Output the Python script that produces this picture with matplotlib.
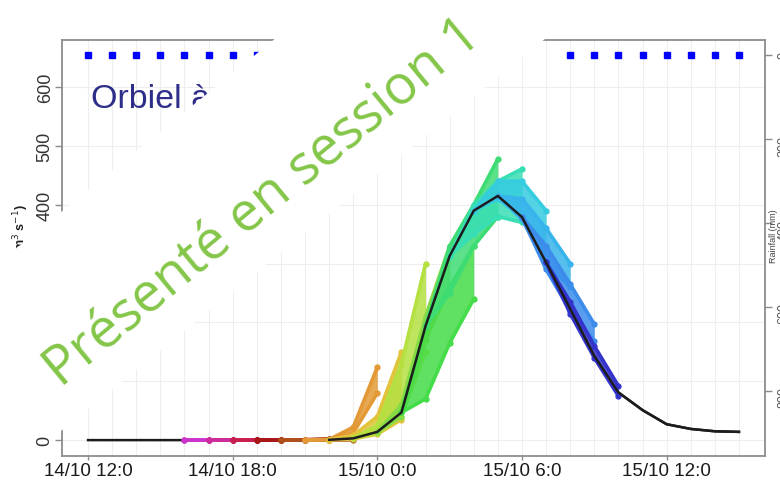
import matplotlib
matplotlib.use('Agg')
import matplotlib.pyplot as plt
from matplotlib.patches import Polygon
import numpy as np

W, H = 780, 481

# ---------------- data ----------------
hours = list(range(28))
observed = [0, 0, 0, 0, 0, 0, 0, 0, 0, 0, 0.5, 3, 14, 47, 194, 313, 390, 415,
            379, 302, 223, 143, 81, 51, 27, 19, 15, 14]
tick_hours = [0, 6, 12, 18, 24]
tick_labels = ['14/10 12:0', '14/10 18:0', '15/10 0:0', '15/10 6:0', '15/10 12:0']
q_ticks = [0, 100, 200, 300, 400, 500, 600]
rain_ticks = [0, 200, 400, 600, 800]
rain_hours = [0, 1, 2, 3, 4, 5, 6, 7, 20, 21, 22, 23, 24, 25, 26, 27]
rain_values = [0, 0, 0, 0, 0, 0, 0, 0, 0, 0, 0, 0, 0, 0, 0, 0]

issue_hours = [4, 5, 6, 7, 8, 9, 10, 11, 12, 13, 14, 15, 16, 17, 18, 19]
lead_hours = [0, 1, 2, 3]
fc_low = [
    [0, 0, 0, 0],
    [0, 0, 0, 0],
    [0, 0, 0, 0],
    [0, 0, 0, 0],
    [0, 0, 0, 0.5],
    [0, 0.5, 12, 80],
    [0.5, 2, 10, 35],
    [3, 12, 40, 150],
    [14, 40, 170, 260],
    [47, 70, 165, 240],
    [194, 250, 330, 380],
    [313, 350, 380, 370],
    [390, 410, 380, 310],
    [415, 375, 300, 260],
    [379, 290, 220, 168],
    [302, 215, 140, 75],
]
fc_high = [
    [0, 0, 0, 0],
    [0, 0, 0, 0],
    [0, 0, 0, 0.5],
    [0, 0, 0.5, 2],
    [0, 0.5, 2, 8],
    [0, 1, 22, 124],
    [0.5, 8, 40, 150],
    [3, 25, 130, 300],
    [14, 60, 210, 330],
    [47, 190, 260, 330],
    [194, 330, 400, 478],
    [313, 400, 440, 461],
    [390, 440, 440, 390],
    [415, 410, 360, 300],
    [379, 330, 265, 197],
    [302, 235, 160, 92],
]
fc_colors = ['#CC33CC', '#CC2C99', '#C8204E', '#A81818', '#B0501C', '#E39A36',
             '#E2C43C', '#B4E040', '#86DA44', '#44DC48', '#3EDC74', '#38DEB4',
             '#36CCE0', '#38B4EC', '#3C8CEC', '#3434CC']


def fx(x):
    return x / W


def fy(y):
    return 1 - y / H


plt.rcParams['font.family'] = ['Liberation Sans', 'DejaVu Sans']

fig = plt.figure(figsize=(W / 100, H / 100), dpi=100)
fig.patch.set_facecolor('white')
ax = fig.add_axes([fx(62), fy(457), fx(765) - fx(62), fy(41) - fy(457)])
ax.set_xlim(-1.08, 28.08)
ax.set_ylim(-27, 680)
ax.set_axisbelow(True)

# grid
ax.set_xticks(hours, minor=True)
ax.set_xticks(tick_hours)
ax.set_xticklabels(tick_labels)
ax.set_yticks(q_ticks)
ax.grid(which='minor', axis='x', color='#EEEEEE', lw=0.8)
ax.grid(which='major', axis='both', color='#EEEEEE', lw=0.8)
ax.tick_params(which='minor', length=0)

# observed (lower layer)
ax.plot(hours, observed, color='#1C1C1C', lw=1.8, zorder=2)

# ensemble fans
for ih, lo, hi, c in zip(issue_hours, fc_low, fc_high, fc_colors):
    xs = [ih + l for l in lead_hours]
    ax.fill_between(xs, lo, hi, color=c, alpha=0.85, lw=0, zorder=3)
    ax.plot(xs, lo, color=c, lw=2.6, marker='o', ms=3.5, zorder=3,
            solid_capstyle='round')
    ax.plot(xs, hi, color=c, lw=2.6, marker='o', ms=3.5, zorder=3,
            solid_capstyle='round')

# observed (upper layer, rising limb onward)
ax.plot(hours[10:], observed[10:], color='#1C1C1C', lw=1.8, zorder=4)

for s in ax.spines.values():
    s.set_color('#8C8C8C')
    s.set_linewidth(1.3)

ax.tick_params(axis='x', which='major', length=3, width=1, color='#8C8C8C',
               pad=1, labelsize=13.5, labelcolor='#1A1A1A')
ax.tick_params(axis='y', which='major', length=5, width=1, color='#8C8C8C',
               pad=1, labelsize=13, labelrotation=90, labelcolor='#333333')
for lab in ax.get_yticklabels():
    lab.set_va('center')

# title / labels
ax.text(fx(91), fy(108), 'Orbiel à Bouilhonnac', transform=fig.transFigure,
        fontsize=24.5, color='#2E2E8A', ha='left', va='baseline', zorder=5)
ax.text(fx(21), fy(204), 'Discharge (m$^3$ s$^{-1}$)', transform=fig.transFigure,
        rotation=90, ha='center', va='top', fontsize=9, color='#222222',
        fontweight='bold')

# rainfall axis
ax2 = ax.twinx()
ax2.set_ylim(955, -36)
ax2.set_yticks(rain_ticks)
ax2.plot(rain_hours, rain_values, linestyle='none', marker='s', ms=4.5,
         color='#0000FF')
for s in ax2.spines.values():
    s.set_visible(False)
ax2.tick_params(axis='y', length=5, width=1, color='#8C8C8C', pad=4,
                labelsize=9, labelrotation=90, labelcolor='#555555')
fig.text(fx(773), fy(236), 'Rainfall (mm)', rotation=90, fontsize=6.5,
         ha='center', va='center', color='#444444')

# white overlay band behind the watermark
th = np.deg2rad(39)
nvec = np.array([-np.sin(th), -np.cos(th)])
uvec = np.array([np.cos(th), -np.sin(th)])
verts = []
for cn, cu in [(-374, -232), (-204, -232), (-204, 900), (-374, 900)]:
    p = cn * nvec + cu * uvec
    verts.append((fx(p[0]), fy(p[1])))
fig.add_artist(Polygon(verts, closed=True, transform=fig.transFigure,
                       facecolor='white', edgecolor='none', zorder=10))

fig.text(fx(61), fy(388), 'Présenté en session 1', rotation=39.5,
         rotation_mode='anchor', ha='left', va='baseline', fontsize=39,
         family=['Open Sans', 'DejaVu Sans'], color='#84C648', zorder=20)

fig.savefig('out.png', dpi=100)
